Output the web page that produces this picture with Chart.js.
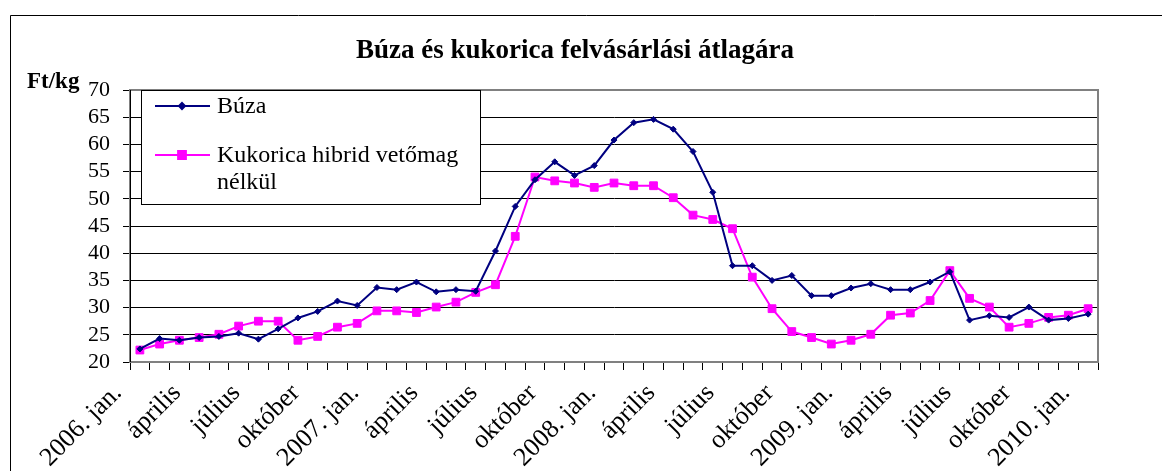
<!DOCTYPE html>
<html>
<head>
<meta charset="utf-8">
<script src="https://cdn.jsdelivr.net/npm/chart.js@4/dist/chart.umd.min.js"></script>
<style>
    html, body { margin: 0; padding: 0; background: #fff; }
    #wrap { width: 1162px; height: 471px; }
</style>
</head>
<body>
<div id="wrap"><canvas id="chart" width="1162" height="471"></canvas></div>
<script>
// months 2006 jan .. 2010 jan, only every 3rd one gets a label on the axis
const categories = [
    '2006. jan.', 'február', 'március', 'április', 'május', 'június',
    'július', 'augusztus', 'szeptember', 'október', 'november', 'december',
    '2007. jan.', 'február', 'március', 'április', 'május', 'június',
    'július', 'augusztus', 'szeptember', 'október', 'november', 'december',
    '2008. jan.', 'február', 'március', 'április', 'május', 'június',
    'július', 'augusztus', 'szeptember', 'október', 'november', 'december',
    '2009. jan.', 'február', 'március', 'április', 'május', 'június',
    'július', 'augusztus', 'szeptember', 'október', 'november', 'december',
    '2010. jan.'
];

// Ft/kg
const buza = [
    22.4, 24.3, 24.0, 24.5, 24.7, 25.3, 24.2, 26.1, 28.1, 29.3,
    31.2, 30.4, 33.7, 33.3, 34.7, 32.9, 33.3, 33.0, 40.4, 48.6,
    53.5, 56.8, 54.3, 56.1, 60.8, 64.0, 64.6, 62.8, 58.7, 51.2,
    37.7, 37.7, 35.0, 35.9, 32.2, 32.2, 33.6, 34.4, 33.3, 33.3,
    34.7, 36.6, 27.7, 28.5, 28.2, 30.1, 27.7, 28.0, 28.8
];
const kukorica = [
    22.2, 23.3, 24.0, 24.5, 25.1, 26.6, 27.5, 27.5, 24.0, 24.7,
    26.4, 27.1, 29.4, 29.4, 29.1, 30.1, 31.0, 32.8, 34.2, 43.1,
    54.0, 53.3, 52.9, 52.1, 52.9, 52.4, 52.4, 50.2, 47.0, 46.2,
    44.5, 35.6, 29.8, 25.6, 24.5, 23.3, 24.0, 25.1, 28.6, 29.0,
    31.3, 36.8, 31.7, 30.1, 26.4, 27.1, 28.2, 28.6, 29.8
];

const serif = '"Liberation Serif", "Times New Roman", serif';
const navy = '#000080';
const magenta = '#FF00FF';

// frame, title, unit label and the boxed legend (Excel style)
const excelFrame = {
    id: 'excelFrame',
    beforeDraw(chart) {
        const ctx = chart.ctx;
        ctx.save();
        ctx.fillStyle = '#fff';
        ctx.fillRect(0, 0, chart.width, chart.height);

        ctx.strokeStyle = '#000';
        ctx.lineWidth = 1;
        ctx.beginPath();
        ctx.moveTo(10.5, chart.height + 5);
        ctx.lineTo(10.5, 15.5);
        ctx.lineTo(chart.width + 5, 15.5);
        ctx.stroke();

        ctx.fillStyle = '#000';
        ctx.font = 'bold 27px ' + serif;
        ctx.textAlign = 'center';
        ctx.textBaseline = 'alphabetic';
        ctx.fillText('Búza és kukorica felvásárlási átlagára', 575, 58);

        ctx.font = 'bold 23px ' + serif;
        ctx.textAlign = 'left';
        ctx.fillText('Ft/kg', 27, 88);
        ctx.restore();
    },
    afterDatasetsDraw(chart) {
        const ctx = chart.ctx;
        const area = chart.chartArea;
        ctx.save();

        // plot area border
        ctx.strokeStyle = '#808080';
        ctx.lineWidth = 2;
        ctx.strokeRect(area.left, area.top, area.right - area.left, area.bottom - area.top);
        ctx.strokeStyle = '#000';
        ctx.lineWidth = 1;
        ctx.beginPath();
        ctx.moveTo(area.left + 0.5, area.top);
        ctx.lineTo(area.left + 0.5, area.bottom);
        ctx.stroke();

        // legend box
        const lx = 141.5, ly = area.top + 0.5, lw = 339, lh = 114;
        ctx.fillStyle = '#fff';
        ctx.fillRect(lx, ly, lw, lh);
        ctx.strokeStyle = '#000';
        ctx.strokeRect(lx, ly, lw, lh);

        const items = chart.data.datasets;
        const rows = [
            { y: 106, text: [items[0].label], base: 113 },
            { y: 155, text: ['Kukorica hibrid vetőmag', 'nélkül'], base: 162 }
        ];
        rows.forEach((row, i) => {
            const ds = items[i];
            ctx.strokeStyle = ds.borderColor;
            ctx.lineWidth = 2;
            ctx.beginPath();
            ctx.moveTo(155, row.y);
            ctx.lineTo(210, row.y);
            ctx.stroke();
            ctx.fillStyle = ds.backgroundColor;
            ctx.strokeStyle = ds.borderColor;
            Chart.helpers.drawPoint(ctx, {
                pointStyle: ds.pointStyle,
                radius: ds.pointRadius,
                borderWidth: 1
            }, 182, row.y);

            ctx.fillStyle = '#000';
            ctx.font = '24px ' + serif;
            ctx.textAlign = 'left';
            ctx.textBaseline = 'alphabetic';
            row.text.forEach((t, k) => ctx.fillText(t, 217, row.base + k * 27));
        });
        ctx.restore();
    }
};

const ctx = document.getElementById('chart').getContext('2d');
const chart = new Chart(ctx, {
    type: 'line',
    data: {
        labels: categories,
        datasets: [{
            label: 'Búza',
            data: buza,
            borderColor: navy,
            backgroundColor: navy,
            borderWidth: 2,
            pointStyle: 'rectRot',
            pointRadius: 3,
            pointBorderWidth: 1,
            tension: 0
        }, {
            label: 'Kukorica hibrid vetőmag nélkül',
            data: kukorica,
            borderColor: magenta,
            backgroundColor: magenta,
            borderWidth: 2,
            pointStyle: 'rect',
            pointRadius: 5.5,
            pointBorderWidth: 1,
            tension: 0
        }]
    },
    options: {
        responsive: false,
        animation: false,
        layout: { padding: { top: 90, right: 64, left: 0, bottom: 0 } },
        plugins: {
            legend: { display: false },
            tooltip: { enabled: false },
            title: { display: false }
        },
        scales: {
            x: {
                offset: true,
                grid: { offset: true, drawOnChartArea: false, color: '#000', tickLength: 8 },
                border: { color: '#000' },
                ticks: {
                    autoSkip: false,
                    maxRotation: 45,
                    minRotation: 45,
                    labelOffset: -22,
                    padding: 8,
                    color: '#000',
                    font: { family: serif, size: 26 },
                    callback: (value, index) => index % 3 === 0 ? categories[index] : ''
                },
                afterFit: (scale) => { scale.height = 109; }
            },
            y: {
                min: 20,
                max: 70,
                ticks: {
                    stepSize: 5,
                    padding: 13,
                    color: '#000',
                    font: { family: serif, size: 22, lineHeight: 1 }
                },
                grid: { color: '#000', tickLength: 7 },
                border: { color: '#000' },
                afterFit: (scale) => { scale.width = 130; }
            }
        }
    },
    plugins: [excelFrame]
});
</script>
</body>
</html>
